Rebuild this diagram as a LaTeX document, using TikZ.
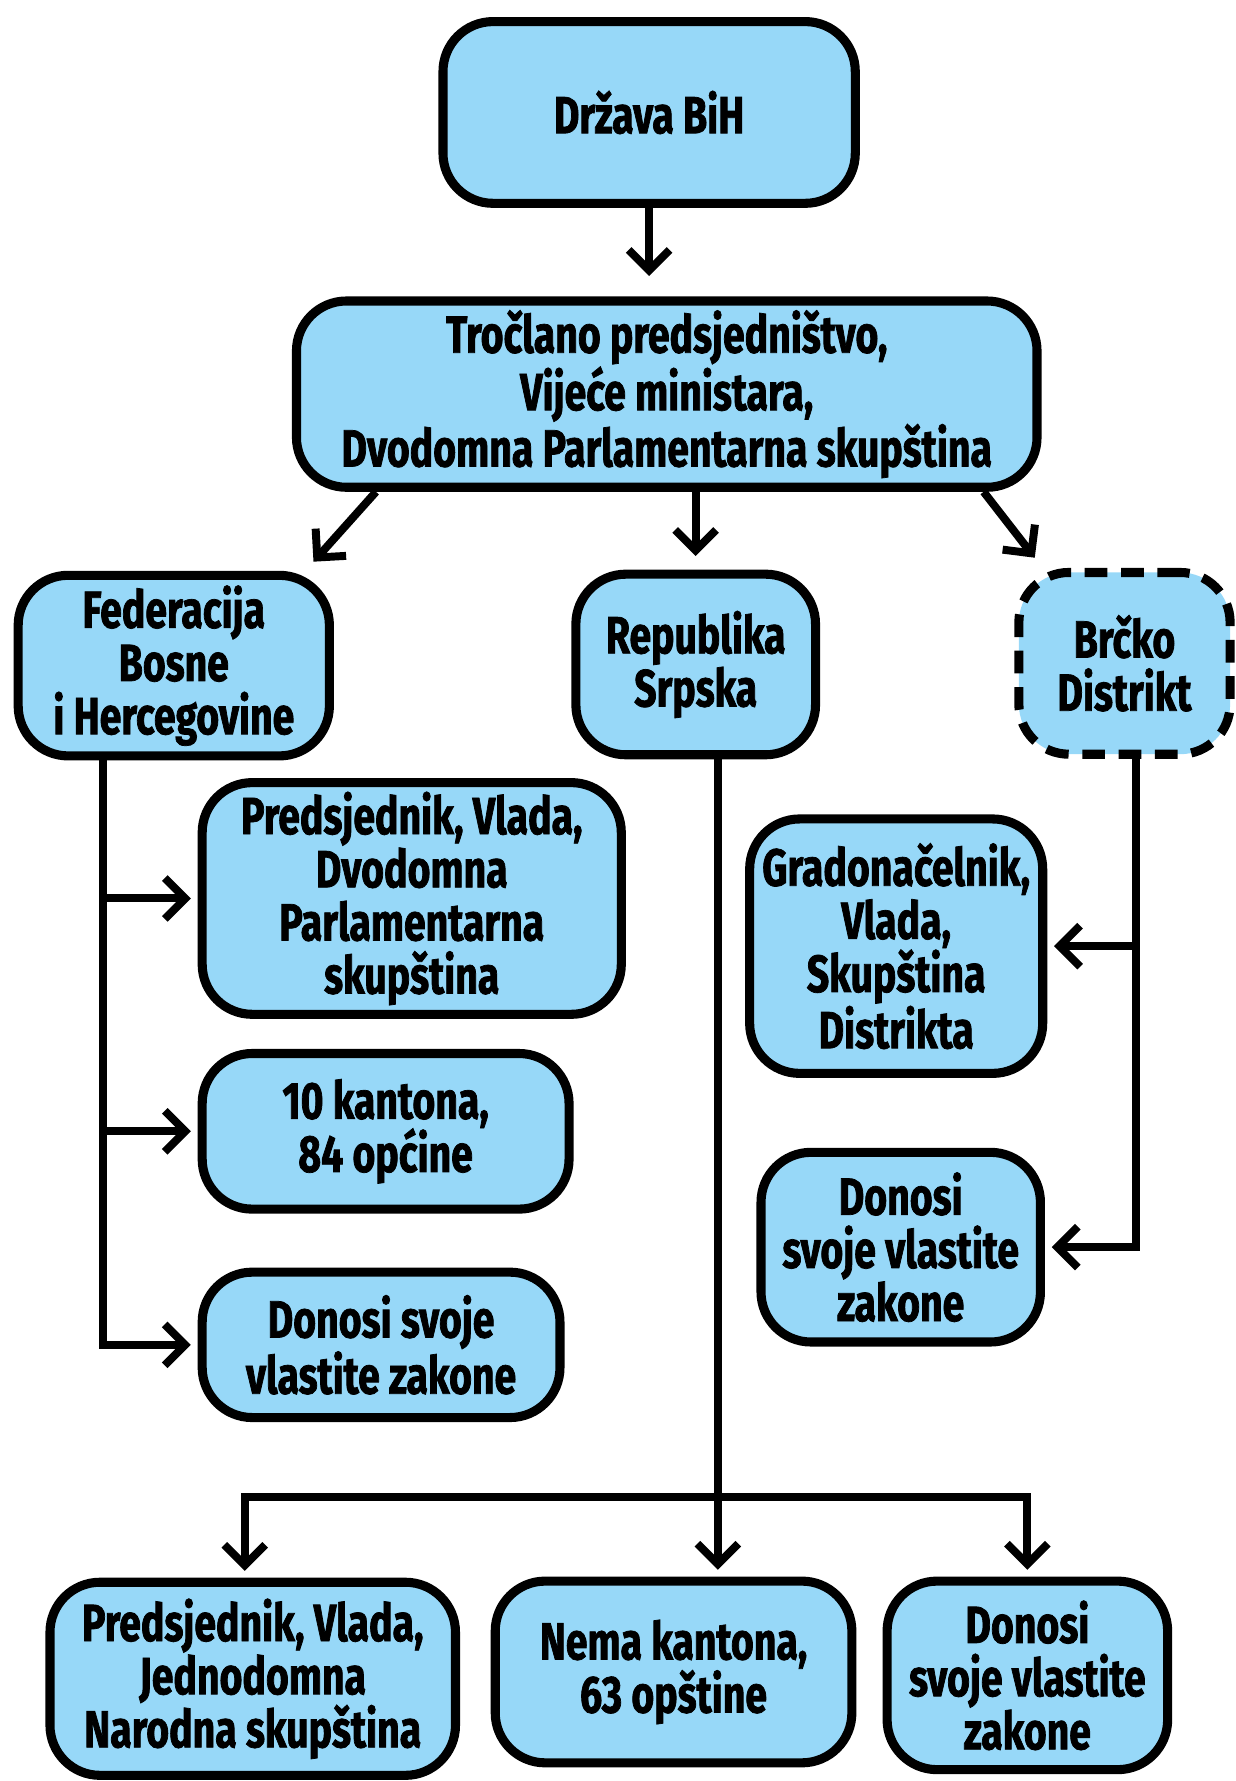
\documentclass[tikz,border=0pt]{standalone}
\usepackage{fontspec}
\usetikzlibrary{arrows.meta,calc}
\newfontfamily\lbl{Fira Sans}[FakeStretch=0.75, BoldFeatures={FakeBold=1.4}]
\definecolor{boxblue}{RGB}{151,216,248}
\tikzset{
  box/.style={draw=black, fill=boxblue, line width=4pt, rounded corners=22pt,
    inner sep=0pt, align=center, font=\lbl\bfseries\fontsize{23}{23.4}\selectfont},
  dashbox/.style={box, dash pattern=on 10pt off 6pt},
  arr/.style={line width=3.5pt, -{Straight Barb[length=9pt,width=18pt,sharp]}}
}
\begin{document}
\begin{tikzpicture}[x=0.5pt,y=-0.5pt]
\useasboundingbox (0,0) rectangle (1088,1568);

% state level
\node[box, minimum width=181.5pt, minimum height=80pt] (b1) at (571.5,99) {Država BiH};
\node[box, minimum width=326pt, minimum height=82pt] (b2) at (587,347)
  {Tročlano predsjedništvo,\\Vijeće ministara,\\Dvodomna Parlamentarna skupština};

% entities and district
\node[box, minimum width=137pt, minimum height=79.5pt] (b3) at (153,586)
  {Federacija\\Bosne\\i Hercegovine};
\node[box, minimum width=105.5pt, minimum height=79.5pt] (b4) at (612.5,585)
  {Republika\\Srpska};
\node[dashbox, minimum width=93pt, minimum height=80pt] (b5) at (990,584)
  {Brčko\\Distrikt};

% Federacija
\node[box, minimum width=184.5pt, minimum height=102pt] (b6) at (362.5,791)
  {Predsjednik, Vlada,\\Dvodomna\\Parlamentarna\\skupština};
\node[box, minimum width=161.5pt, minimum height=68.5pt] (b7) at (339.5,996)
  {10 kantona,\\84 općine};
\node[box, minimum width=157.5pt, minimum height=64pt] (b8) at (335.5,1184)
  {Donosi svoje\\vlastite zakone};

% Republika Srpska
\node[box, minimum width=178.5pt, minimum height=85pt] (b9) at (222.5,1478)
  {Predsjednik, Vlada,\\Jednodomna\\Narodna skupština};
\node[box, minimum width=157pt, minimum height=80pt] (b10) at (593,1472)
  {Nema kantona,\\63 opštine};
\node[box, minimum width=123.5pt, minimum height=83pt] (b11) at (904.5,1475)
  {Donosi\\svoje vlastite\\zakone};

% Brčko Distrikt
\node[box, minimum width=129pt, minimum height=112pt] (b12) at (789,833)
  {Gradonačelnik,\\Vlada,\\Skupština\\Distrikta};
\node[box, minimum width=123pt, minimum height=83.5pt] (b13) at (793,1098)
  {Donosi\\svoje vlastite\\zakone};

% top connectors
\draw[arr, shorten >=9pt] (b1.south) -- (b1.south |- b2.north);
\draw[arr] ($(b2.south west)+(74,0)$) -- ($(b3.north east)+(-18,-8)$);
\draw[arr, shorten >=6pt] (b2.south -| b4.north) -- (b4.north);
\draw[arr] ($(b2.south east)+(-51,0)$) -- ($(b5.north west)+(18,-9)$);

% Federacija branches
\coordinate (fx) at ($(b3.south west)+(79,0)$);
\draw[arr, shorten >=3pt] (fx) |- (b8.west);
\draw[arr, shorten >=3pt] (fx |- b6.west) -- (b6.west);
\draw[arr, shorten >=3pt] (fx |- b7.west) -- (b7.west);

% Republika Srpska branches
\coordinate (rx) at ($(b4.south)+(19.5,0)$);
\coordinate (split) at (rx |- 0,1318);
\draw[arr, shorten >=3pt] (rx) -- (rx |- b10.north);
\draw[arr, shorten >=3pt] (split) -| ($(b9.north)+(-7,0)$);
\draw[arr, shorten >=3pt] (split) -| (b11.north);

% Brčko Distrikt branches
\coordinate (bx) at ($(b5.south)+(10,0)$);
\draw[arr, shorten >=3pt] (bx) |- (b13.east);
\draw[arr, shorten >=3pt] (bx |- b12.east) -- (b12.east);
\end{tikzpicture}
\end{document}
